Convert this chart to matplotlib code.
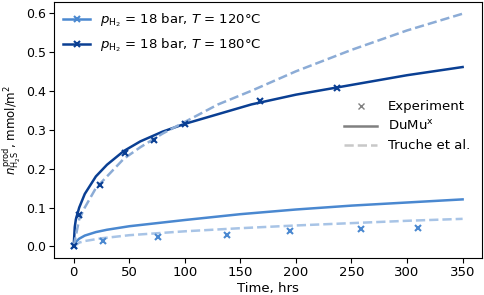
import matplotlib
matplotlib.use("Agg")
import matplotlib.pyplot as plt
from matplotlib.lines import Line2D

# experiment points
t_exp_120 = [0, 26, 76, 138, 195, 259, 310]
n_exp_120 = [0.0, 0.014, 0.025, 0.030, 0.040, 0.044, 0.048]
t_exp_180 = [0, 5, 24, 46, 72, 100, 168, 237]
n_exp_180 = [0.0, 0.082, 0.159, 0.241, 0.274, 0.314, 0.373, 0.408]

# DuMux model curves
t_dumux_120 = [0, 2, 5, 10, 20, 30, 50, 75, 100, 150, 200, 250, 300, 350]
n_dumux_120 = [0.0, 0.012, 0.020, 0.028, 0.037, 0.043, 0.052, 0.060, 0.068,
               0.083, 0.095, 0.105, 0.113, 0.121]
t_dumux_180 = [0, 1, 2, 5, 10, 20, 30, 45, 60, 80, 100, 130, 160, 200, 250, 300, 350]
n_dumux_180 = [0.0, 0.05, 0.07, 0.10, 0.135, 0.18, 0.21, 0.245, 0.27, 0.295,
               0.315, 0.34, 0.365, 0.39, 0.415, 0.44, 0.461]

# Truche et al. curves
t_truche_120 = [0, 5, 10, 25, 50, 100, 150, 200, 250, 300, 350]
n_truche_120 = [0.0, 0.010, 0.014, 0.021, 0.029, 0.039, 0.047, 0.054, 0.060, 0.066, 0.071]
t_truche_180 = [0, 5, 10, 20, 30, 45, 60, 80, 100, 130, 160, 200, 250, 300, 350]
n_truche_180 = [0.0, 0.07, 0.10, 0.15, 0.18, 0.225, 0.255, 0.29, 0.32, 0.365,
                0.40, 0.45, 0.505, 0.555, 0.598]

light = '#4a88d0'
dark = '#0a3f93'
light_dash = '#a8c4e6'
dark_dash = '#8cacd6'

plt.rcParams['mathtext.fontset'] = 'dejavusans'
plt.rcParams['font.size'] = 9
plt.rcParams['xtick.labelsize'] = 9.5
plt.rcParams['ytick.labelsize'] = 9
plt.rcParams['xtick.major.pad'] = 2.5
plt.rcParams['ytick.major.pad'] = 2.5

fig, ax = plt.subplots(figsize=(4.84, 2.95), dpi=100)

ax.plot(t_dumux_120, n_dumux_120, color=light, lw=1.8)
ax.plot(t_truche_120, n_truche_120, color=light_dash, lw=1.8, ls='--')
ax.plot(t_exp_120, n_exp_120, 'x', color=light, ms=5, mew=1.5)

ax.plot(t_dumux_180, n_dumux_180, color=dark, lw=1.8)
ax.plot(t_truche_180, n_truche_180, color=dark_dash, lw=1.8, ls='--')
ax.plot(t_exp_180, n_exp_180, 'x', color=dark, ms=5, mew=1.5)

ax.set_xlabel("Time, hrs", labelpad=2, fontsize=9.5)
ax.set_ylabel(r"$n^{\mathrm{prod}}_{\mathrm{H_2S}}$, mmol/m$^2$", fontsize=8.5)
ax.yaxis.set_label_coords(-0.072, 0.5)
ax.set_xticks([0, 50, 100, 150, 200, 250, 300, 350])
ax.set_yticks([0.0, 0.1, 0.2, 0.3, 0.4, 0.5, 0.6])

# legend for the two cases
h1 = [Line2D([], [], color=light, lw=1.8, marker='x', ms=5, mew=1.5),
      Line2D([], [], color=dark, lw=1.8, marker='x', ms=5, mew=1.5)]
l1 = [r"$p_{\mathrm{H_2}}$ = 18 bar, $T$ = 120°C",
      r"$p_{\mathrm{H_2}}$ = 18 bar, $T$ = 180°C"]
leg1 = ax.legend(h1, l1, loc='upper left', frameon=False, fontsize=9.5,
                 borderaxespad=0.3, labelspacing=0.6)
ax.add_artist(leg1)

# legend for line styles
h2 = [Line2D([], [], color='gray', ls='none', marker='x', ms=5),
      Line2D([], [], color='gray', lw=1.8),
      Line2D([], [], color='#c8c8c8', lw=1.8, ls='--')]
l2 = ["Experiment", r"DuMu$^\mathrm{x}$", "Truche et al."]
ax.legend(h2, l2, loc='center right', bbox_to_anchor=(1.0, 0.515), frameon=False,
          handlelength=2.5, fontsize=9.5, labelspacing=0.45)

fig.subplots_adjust(left=0.112, right=0.996, top=0.993, bottom=0.125)
fig.savefig("out.png", dpi=100)
